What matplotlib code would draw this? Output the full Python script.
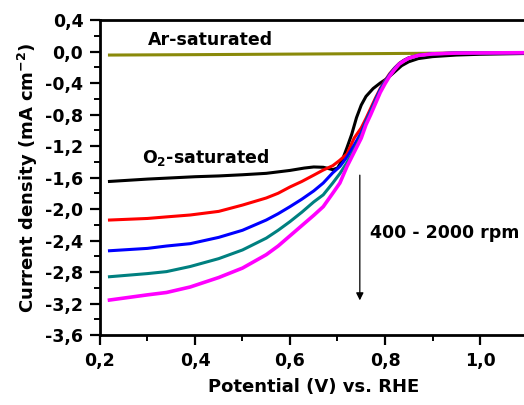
import matplotlib
matplotlib.use("Agg")
import matplotlib.pyplot as plt
from matplotlib.ticker import FixedLocator, FuncFormatter, MultipleLocator

# ---- data ----
ar_x = [0.22, 0.40, 0.60, 0.80, 0.90, 1.00, 1.10]
ar_y = [-0.045, -0.040, -0.033, -0.026, -0.022, -0.018, -0.015]

black_x = [0.22, 0.30, 0.40, 0.45, 0.50, 0.55, 0.60, 0.63, 0.65, 0.67, 0.69, 0.70,
           0.71, 0.72, 0.73, 0.74, 0.75, 0.76, 0.775, 0.79, 0.805, 0.82, 0.835,
           0.85, 0.87, 0.90, 0.95, 1.00, 1.10]
black_y = [-1.65, -1.62, -1.59, -1.58, -1.565, -1.547, -1.51, -1.48, -1.466, -1.47,
           -1.50, -1.48, -1.38, -1.22, -1.05, -0.84, -0.68, -0.57, -0.47, -0.40,
           -0.34, -0.26, -0.18, -0.13, -0.09, -0.065, -0.045, -0.035, -0.025]

pot = [0.22, 0.30, 0.34, 0.39, 0.45, 0.50, 0.55, 0.575, 0.60, 0.625, 0.65, 0.67,
       0.69, 0.705, 0.72, 0.735, 0.75, 0.76, 0.77, 0.78, 0.79, 0.80, 0.81, 0.82,
       0.83, 0.84, 0.85, 0.87, 0.90, 0.95, 1.00, 1.10]
red_y = [-2.14, -2.12, -2.10, -2.076, -2.03, -1.95, -1.86, -1.80, -1.72, -1.65,
         -1.57, -1.505, -1.45, -1.38, -1.30, -1.10, -0.97, -0.85, -0.72, -0.59,
         -0.47, -0.37, -0.28, -0.21, -0.15, -0.11, -0.08, -0.048, -0.03, -0.02,
         -0.018, -0.015]
blue_y = [-2.53, -2.50, -2.47, -2.44, -2.36, -2.27, -2.14, -2.06, -1.97, -1.875,
          -1.77, -1.67, -1.54, -1.46, -1.34, -1.19, -1.03, -0.88, -0.75, -0.61,
          -0.48, -0.38, -0.29, -0.215, -0.155, -0.113, -0.082, -0.049, -0.03,
          -0.02, -0.018, -0.015]
teal_y = [-2.86, -2.82, -2.795, -2.73, -2.63, -2.52, -2.37, -2.27, -2.16, -2.04,
          -1.91, -1.82, -1.67, -1.55, -1.41, -1.25, -1.07, -0.90, -0.77, -0.63,
          -0.50, -0.39, -0.30, -0.22, -0.158, -0.116, -0.084, -0.05, -0.03,
          -0.02, -0.018, -0.015]
mag_y = [-3.156, -3.09, -3.06, -2.99, -2.87, -2.75, -2.58, -2.47, -2.34, -2.21,
         -2.08, -1.97, -1.80, -1.67, -1.46, -1.28, -1.10, -0.93, -0.80, -0.66,
         -0.52, -0.41, -0.31, -0.23, -0.16, -0.12, -0.085, -0.05, -0.03, -0.02,
         -0.018, -0.015]

xticks = [0.2, 0.4, 0.6, 0.8, 1.0]
yticks = [0.4, 0.0, -0.4, -0.8, -1.2, -1.6, -2.0, -2.4, -2.8, -3.2, -3.6]

plt.rcParams['font.family'] = ['DejaVu Sans']
plt.rcParams['font.weight'] = 'bold'
plt.rcParams['mathtext.default'] = 'bf'

fig = plt.figure(figsize=(5.24, 4.05), dpi=100)
ax = fig.add_axes([0.1908, 0.1728, 1.0067 - 0.1908, 0.9506 - 0.1728])

lw = 2.2
ax.plot(ar_x, ar_y, color='#8a8a0a', lw=lw)
ax.plot(black_x, black_y, color='black', lw=lw)
ax.plot(pot, red_y, color='#ff0000', lw=lw)
ax.plot(pot, blue_y, color='#0000ff', lw=lw)
ax.plot(pot, teal_y, color='#008080', lw=lw)
ax.plot(pot, mag_y, color='#ff00ff', lw=lw + 0.4)

ax.set_xlim(0.2, 1.1)
ax.set_ylim(-3.6, 0.4)

fmt = FuncFormatter(lambda v, p: f"{v:.1f}".replace('.', ','))
ax.xaxis.set_major_locator(FixedLocator(xticks))
ax.yaxis.set_major_locator(FixedLocator(yticks))
ax.xaxis.set_minor_locator(MultipleLocator(0.1))
ax.yaxis.set_minor_locator(MultipleLocator(0.2))
ax.xaxis.set_major_formatter(fmt)
ax.yaxis.set_major_formatter(fmt)
ax.tick_params(which='major', direction='out', length=7, width=1.6, labelsize=12.5, pad=5)
ax.tick_params(which='minor', direction='out', length=4, width=1.4)
for lab in ax.get_xticklabels() + ax.get_yticklabels():
    lab.set_fontweight('bold')

for s in ['left', 'bottom', 'top']:
    ax.spines[s].set_linewidth(2.0)
ax.spines['right'].set_visible(False)

ax.set_xlabel('Potential (V) vs. RHE', fontsize=13, fontweight='bold', labelpad=6)
ax.set_ylabel(r'Current density (mA cm$^{-2}$)', fontsize=13, fontweight='bold', labelpad=4)

ax.text(0.301, 0.146, 'Ar-saturated', fontsize=12.5, fontweight='bold', va='center', ha='left')
ax.text(0.288, -1.34, r'O$_2$-saturated', fontsize=12.5, fontweight='bold', va='center', ha='left')
ax.text(0.768, -2.305, '400 - 2000 rpm', fontsize=12.5, fontweight='bold', va='center', ha='left')

ax.annotate('', xy=(0.747, -3.16), xytext=(0.747, -1.57),
            arrowprops=dict(arrowstyle='-|>', lw=0.9, color='black', mutation_scale=11,
                            shrinkA=0, shrinkB=0))

fig.savefig('out.png', dpi=100, facecolor='white')
